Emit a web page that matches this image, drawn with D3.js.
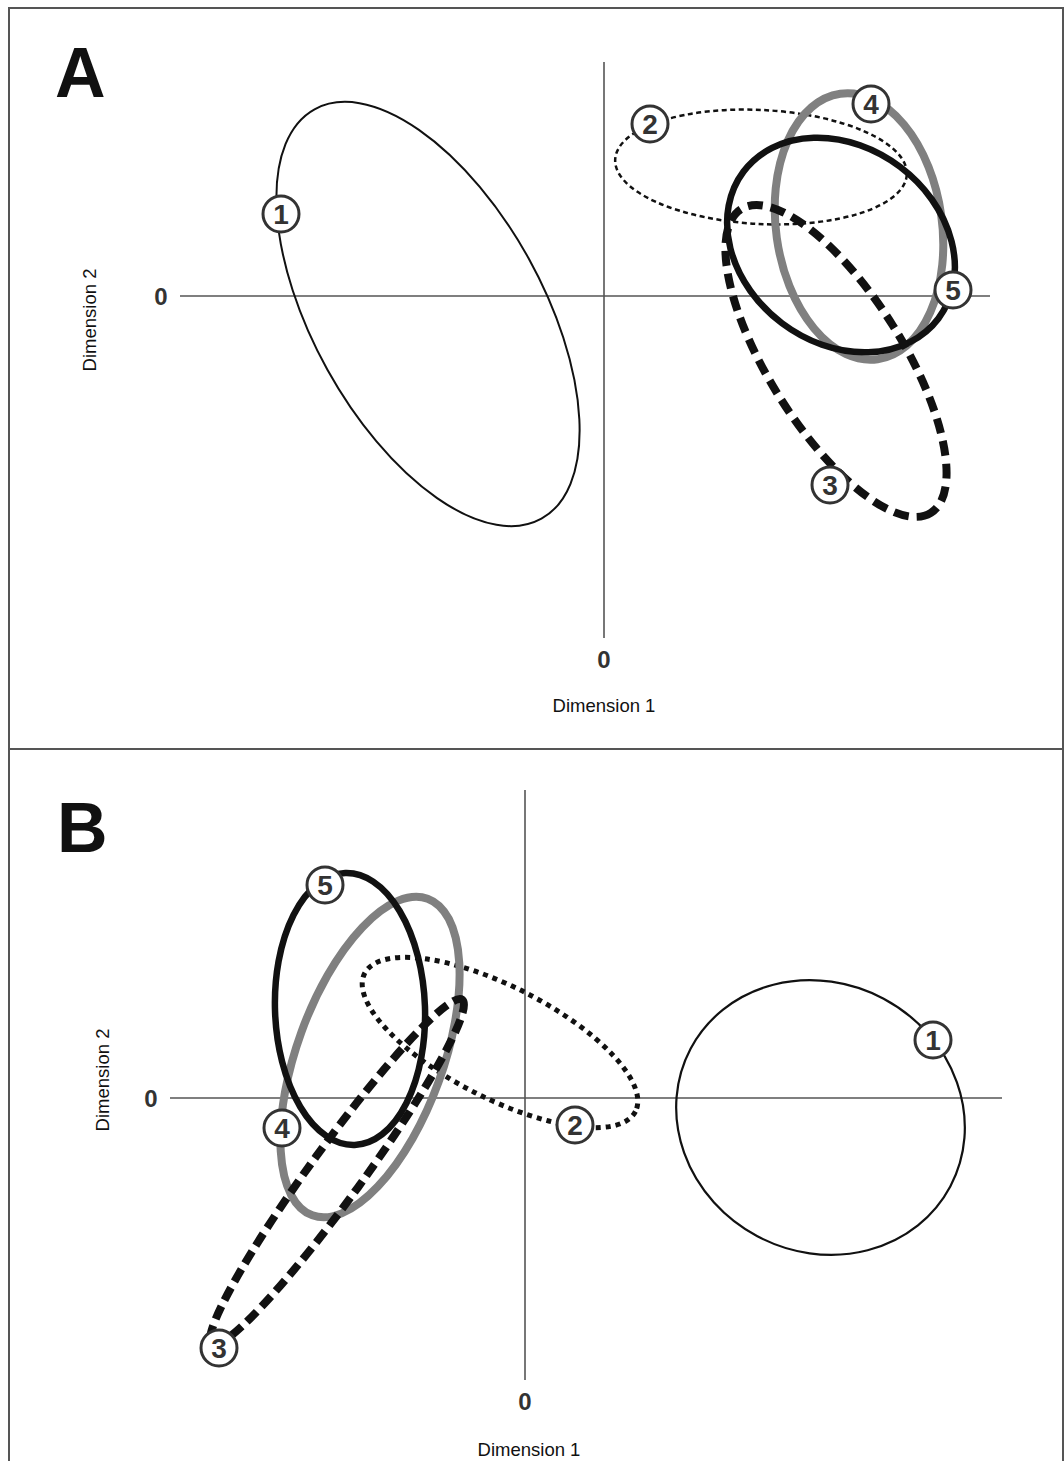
<!DOCTYPE html>
<html>
  <head>
    <title>Ellipse plot with D3.js</title>
    <script src="https://d3js.org/d3.v7.min.js"></script>
    <style>
      body { margin: 0; background: #fff; }
      text { font-family: "Liberation Sans", Arial, sans-serif; }
    </style>
  </head>
  <body>
    <div id="chart"></div>
    <script>
      // groups shown in both panels
      const groups = ["1", "2", "3", "4", "5"];
      const drawOrder = [1, 0, 3, 4, 2]; // index into groups

      // Panel A: ellipse centres, semi axes and tilt (deg, counter-clockwise), in dimension units
      const cxA = [-1.76, 1.57, 2.32, 2.55, 2.37];
      const cyA = [-0.18, 1.29, -0.65, 0.695, 0.51];
      const rxA = [2.34, 1.46, 1.79, 1.34, 1.22];
      const ryA = [1.15, 0.57, 0.67, 0.83, 0.98];
      const angleA = [-61, -3, -58, -82, -37];
      const labelXA = [-3.23, 0.46, 2.26, 2.67, 3.49];
      const labelYA = [0.82, 1.72, -1.89, 1.92, 0.06];

      // Panel B
      const cxB = [2.955, -0.25, -1.88, -1.55, -1.75];
      const cyB = [-0.195, 0.555, -0.74, 0.41, 0.89];
      const rxB = [1.47, 1.52, 2.13, 1.685, 1.36];
      const ryB = [1.345, 0.56, 0.26, 0.73, 0.75];
      const angleB = [-28, -27, 54, 70, -88];
      const labelXB = [4.08, 0.5, -3.06, -2.43, -2.0];
      const labelYB = [0.58, -0.27, -2.5, -0.3, 2.13];

      // axis extents
      const xDomainA = [-4.24, 3.86];
      const yDomainA = [-3.42, 2.34];
      const xDomainB = [-3.55, 4.77];
      const yDomainB = [-2.82, 3.08];
      const tickValues = [0];

      const W = 1064, H = 1461;

      // line styles per group
      const stylesA = [
        { color: "#111", width: 2, dash: null },
        { color: "#111", width: 2.5, dash: "5,3.5" },
        { color: "#111", width: 8, dash: "15,8" },
        { color: "#808080", width: 8, dash: null },
        { color: "#111", width: 6.5, dash: null }
      ];
      const stylesB = [
        { color: "#111", width: 2.2, dash: null },
        { color: "#111", width: 5, dash: "5,5" },
        { color: "#111", width: 8, dash: "14,7" },
        { color: "#808080", width: 8, dash: null },
        { color: "#111", width: 6.5, dash: null }
      ];

      const svg = d3
        .select("#chart")
        .append("svg")
        .attr("width", W)
        .attr("height", H);

      // outer frame and divider
      svg.append("rect")
        .attr("x", 9).attr("y", 8)
        .attr("width", 1054).attr("height", H)
        .attr("fill", "none").attr("stroke", "#555").attr("stroke-width", 2);
      svg.append("line")
        .attr("x1", 9).attr("x2", W).attr("y1", 749).attr("y2", 749)
        .attr("stroke", "#555").attr("stroke-width", 2);

      function drawPanel(p) {
        const x = d3.scaleLinear().domain(p.xDomain).range(p.xRange);
        const y = d3.scaleLinear().domain(p.yDomain).range(p.yRange);
        const g = svg.append("g");

        // panel letter
        g.append("text")
          .attr("x", p.letterPos[0]).attr("y", p.letterPos[1])
          .attr("font-size", 70).attr("font-weight", "bold").attr("fill", "#111")
          .text(p.letter);

        // axes through the origin
        g.append("line")
          .attr("x1", x(p.xDomain[0])).attr("x2", x(p.xDomain[1]))
          .attr("y1", y(0)).attr("y2", y(0))
          .attr("stroke", "#555").attr("stroke-width", 1.6);
        g.append("line")
          .attr("x1", x(0)).attr("x2", x(0))
          .attr("y1", y(p.yDomain[0])).attr("y2", y(p.yDomain[1]))
          .attr("stroke", "#555").attr("stroke-width", 1.6);

        // zero ticks
        g.selectAll(".xtick").data(tickValues).join("text")
          .attr("x", (d) => x(d)).attr("y", y(p.yDomain[0]) + 30)
          .attr("text-anchor", "middle").attr("font-size", 24)
          .attr("font-weight", "bold").attr("fill", "#333")
          .text((d) => d);
        g.selectAll(".ytick").data(tickValues).join("text")
          .attr("x", x(p.xDomain[0]) - 19).attr("y", (d) => y(d) + 9)
          .attr("text-anchor", "middle").attr("font-size", 24)
          .attr("font-weight", "bold").attr("fill", "#333")
          .text((d) => d);

        // axis titles
        g.append("text")
          .attr("x", x(0) + p.xTitleShift).attr("y", y(p.yDomain[0]) + p.xTitleOffset)
          .attr("text-anchor", "middle").attr("font-size", 18.5).attr("fill", "#111")
          .text("Dimension 1");
        g.append("text")
          .attr("transform", `translate(${p.yTitlePos[0]},${p.yTitlePos[1]}) rotate(-90)`)
          .attr("text-anchor", "middle").attr("font-size", 18.5).attr("fill", "#111")
          .text("Dimension 2");

        const ux = x(1) - x(0);
        const uy = y(0) - y(1);

        // ellipses
        drawOrder.forEach((i) => {
          const s = p.styles[i];
          g.append("ellipse")
            .attr("cx", x(p.cx[i])).attr("cy", y(p.cy[i]))
            .attr("rx", p.rx[i] * ux).attr("ry", p.ry[i] * uy)
            .attr("transform", `rotate(${-p.angle[i]},${x(p.cx[i])},${y(p.cy[i])})`)
            .attr("fill", "none")
            .attr("stroke", s.color)
            .attr("stroke-width", s.width)
            .attr("stroke-dasharray", s.dash);
        });

        // numbered markers
        const lab = g.selectAll(".lab")
          .data(groups)
          .join("g")
          .attr("transform", (d, i) => `translate(${x(p.labelX[i])},${y(p.labelY[i])})`);
        lab.append("circle")
          .attr("r", 18).attr("fill", "#fff")
          .attr("stroke", "#333").attr("stroke-width", 3);
        lab.append("text")
          .attr("text-anchor", "middle").attr("dy", "0.36em")
          .attr("font-size", 28).attr("font-weight", "bold").attr("fill", "#333")
          .text((d) => d);
      }

      drawPanel({
        letter: "A", letterPos: [55, 97],
        xDomain: xDomainA, yDomain: yDomainA,
        xRange: [180, 990], yRange: [638, 62],
        cx: cxA, cy: cyA, rx: rxA, ry: ryA, angle: angleA,
        labelX: labelXA, labelY: labelYA,
        styles: stylesA,
        xTitleShift: 0, xTitleOffset: 74, yTitlePos: [96, 320]
      });

      drawPanel({
        letter: "B", letterPos: [57, 852],
        xDomain: xDomainB, yDomain: yDomainB,
        xRange: [170, 1002], yRange: [1380, 790],
        cx: cxB, cy: cyB, rx: rxB, ry: ryB, angle: angleB,
        labelX: labelXB, labelY: labelYB,
        styles: stylesB,
        xTitleShift: 4, xTitleOffset: 76, yTitlePos: [109, 1080]
      });
    </script>
  </body>
</html>
